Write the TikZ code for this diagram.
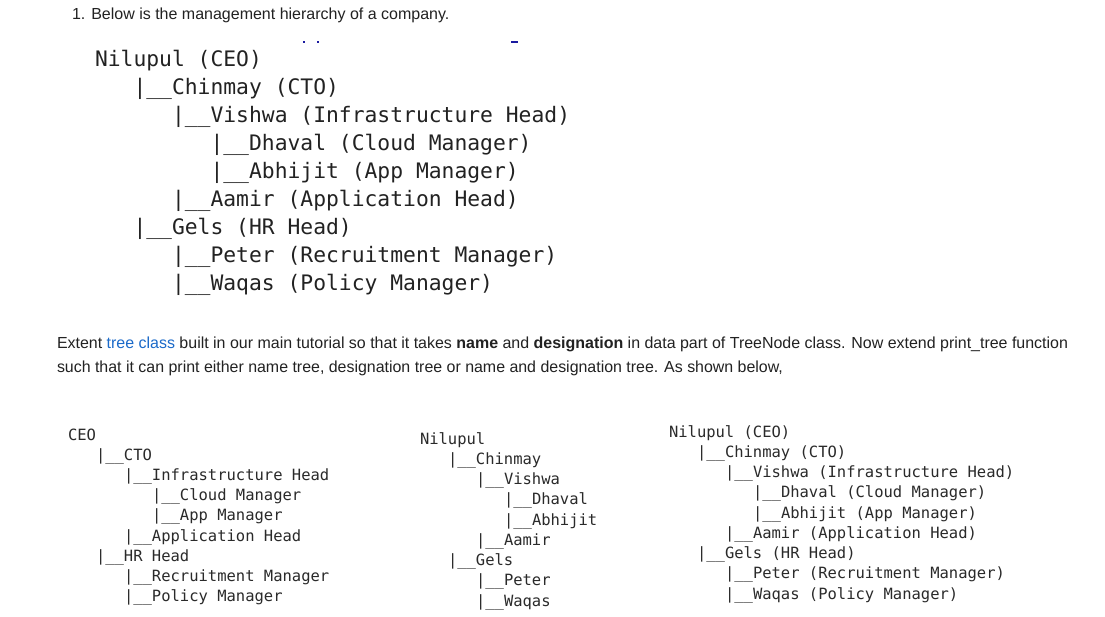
\documentclass[tikz,border=0pt]{standalone}
\usepackage{fontspec}
\setmainfont{Liberation Sans}
\newfontfamily\codefont{DejaVu Sans Mono}
\usepackage{graphicx}
\definecolor{txt}{HTML}{222222}
\definecolor{codetxt}{HTML}{2A2A2A}
\definecolor{linkblue}{HTML}{1B6AC9}
\definecolor{specks}{HTML}{1A1AA0}
\begin{document}
\begin{tikzpicture}[x=1pt,y=-1pt,
  every node/.style={inner sep=0pt,outer sep=0pt,anchor=base west},
  prose/.style={text=txt,font=\fontsize{16}{19}\selectfont},
  bigcode/.style={text=txt,font=\codefont\fontsize{21.33}{24}\selectfont},
  smallcode/.style={text=codetxt,font=\codefont\fontsize{15.5}{18}\selectfont}]
\useasboundingbox[fill=white] (0,0) rectangle (1105,616);

\node[prose] (title) at (72,19) {1. Below is the management hierarchy of a company.};

\fill[specks] (303,40.5) rectangle (305,42.5);
\fill[specks] (317,40.5) rectangle (319,42.5);
\fill[specks] (511,40.5) rectangle (518,42.5);

% top tree
\begin{scope}[shift={(95pt,-66pt)},x=38.52pt,y=-28pt]
\node[bigcode] (t0) at (0,0) {Nilupul (CEO)};
\node[bigcode] (t1) at (1,1) {|\_\_Chinmay (CTO)};
\node[bigcode] (t2) at (2,2) {|\_\_Vishwa (Infrastructure Head)};
\node[bigcode] (t3) at (3,3) {|\_\_Dhaval (Cloud Manager)};
\node[bigcode] (t4) at (3,4) {|\_\_Abhijit (App Manager)};
\node[bigcode] (t5) at (2,5) {|\_\_Aamir (Application Head)};
\node[bigcode] (t6) at (1,6) {|\_\_Gels (HR Head)};
\node[bigcode] (t7) at (2,7) {|\_\_Peter (Recruitment Manager)};
\node[bigcode] (t8) at (2,8) {|\_\_Waqas (Policy Manager)};
\end{scope}

% paragraph
\node[prose] (p1) at (57,348) {\resizebox{1011pt}{\height}{Extent {\color{linkblue}tree class} built in our main tutorial so that it takes \textbf{name} and \textbf{designation} in data part of TreeNode class. Now extend print\_tree function}};
\node[prose] (p2) at (57,372) {\resizebox{726pt}{\height}{such that it can print either name tree, designation tree or name and designation tree. As shown below,}};

% designation tree
\begin{scope}[shift={(68pt,-440pt)},x=28pt,y=-20.2pt]
\node[smallcode] (a0) at (0,0) {CEO};
\node[smallcode] (a1) at (1,1) {|\_\_CTO};
\node[smallcode] (a2) at (2,2) {|\_\_Infrastructure Head};
\node[smallcode] (a3) at (3,3) {|\_\_Cloud Manager};
\node[smallcode] (a4) at (3,4) {|\_\_App Manager};
\node[smallcode] (a5) at (2,5) {|\_\_Application Head};
\node[smallcode] (a6) at (1,6) {|\_\_HR Head};
\node[smallcode] (a7) at (2,7) {|\_\_Recruitment Manager};
\node[smallcode] (a8) at (2,8) {|\_\_Policy Manager};
\end{scope}

% name tree
\begin{scope}[shift={(420pt,-444pt)},x=28pt,y=-20.25pt]
\node[smallcode] (b0) at (0,0) {Nilupul};
\node[smallcode] (b1) at (1,1) {|\_\_Chinmay};
\node[smallcode] (b2) at (2,2) {|\_\_Vishwa};
\node[smallcode] (b3) at (3,3) {|\_\_Dhaval};
\node[smallcode] (b4) at (3,4) {|\_\_Abhijit};
\node[smallcode] (b5) at (2,5) {|\_\_Aamir};
\node[smallcode] (b6) at (1,6) {|\_\_Gels};
\node[smallcode] (b7) at (2,7) {|\_\_Peter};
\node[smallcode] (b8) at (2,8) {|\_\_Waqas};
\end{scope}

% name and designation tree
\begin{scope}[shift={(669pt,-437pt)},x=28pt,y=-20.25pt]
\node[smallcode] (c0) at (0,0) {Nilupul (CEO)};
\node[smallcode] (c1) at (1,1) {|\_\_Chinmay (CTO)};
\node[smallcode] (c2) at (2,2) {|\_\_Vishwa (Infrastructure Head)};
\node[smallcode] (c3) at (3,3) {|\_\_Dhaval (Cloud Manager)};
\node[smallcode] (c4) at (3,4) {|\_\_Abhijit (App Manager)};
\node[smallcode] (c5) at (2,5) {|\_\_Aamir (Application Head)};
\node[smallcode] (c6) at (1,6) {|\_\_Gels (HR Head)};
\node[smallcode] (c7) at (2,7) {|\_\_Peter (Recruitment Manager)};
\node[smallcode] (c8) at (2,8) {|\_\_Waqas (Policy Manager)};
\end{scope}
\end{tikzpicture}
\end{document}
